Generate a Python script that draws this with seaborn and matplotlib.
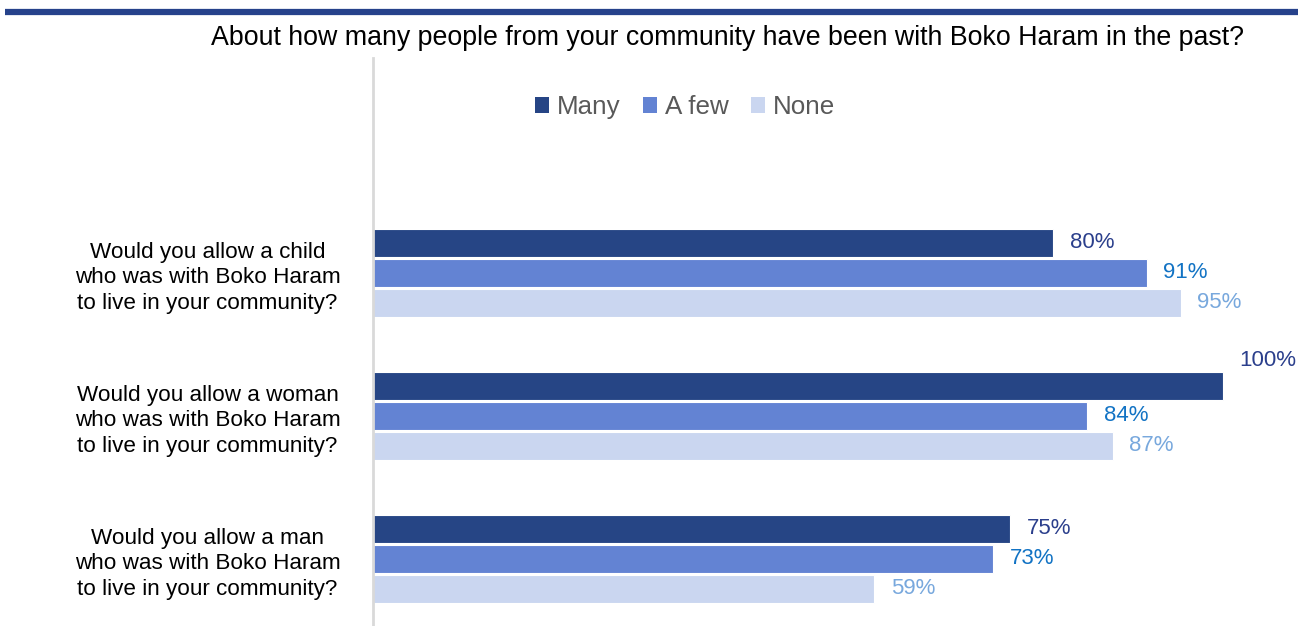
import matplotlib
matplotlib.use("Agg")
import matplotlib.pyplot as plt
import seaborn as sns
import pandas as pd
from matplotlib.lines import Line2D
from matplotlib.patches import Patch

questions = [
    "Would you allow a child\nwho was with Boko Haram\nto live in your community?",
    "Would you allow a woman\nwho was with Boko Haram\nto live in your community?",
    "Would you allow a man\nwho was with Boko Haram\nto live in your community?",
]
groups = ["Many", "A few", "None"]
many = [80, 100, 75]
a_few = [91, 84, 73]
none = [95, 87, 59]
title = "About how many people from your community have been with Boko Haram in the past?"

bar_colors = ["#264585", "#6383d3", "#cad6f0"]
label_colors = ["#2b3f8c", "#1273c4", "#78a8dd"]

rows = []
for g, vals in zip(groups, [many, a_few, none]):
    for q, v in zip(questions, vals):
        rows.append({"question": q, "group": g, "value": v})
df = pd.DataFrame(rows)

sns.set_theme(style="white")
plt.rcParams["font.family"] = ["Liberation Sans", "DejaVu Sans"]

W, H = 1304, 626
fig = plt.figure(figsize=(W / 100, H / 100), dpi=100)
ax = fig.add_axes([373 / W, 0, (W - 373) / W, (626 - 58) / H])

sns.barplot(data=df, y="question", x="value", hue="group", order=questions,
            hue_order=groups, palette=bar_colors, orient="h", width=0.63,
            gap=0.05, edgecolor="white", linewidth=0.8, ax=ax, legend=False,
            saturation=1)

ax.set_xlim(0, 100 * (W - 373) / 850)
ax.set_ylim(2.469, -1.503)
ax.set_xlabel("")
ax.set_ylabel("")
ax.set_xticks([])
for s in ["top", "right", "bottom"]:
    ax.spines[s].set_visible(False)
ax.spines["left"].set_color("#d9d9d9")
ax.spines["left"].set_linewidth(2)
ax.tick_params(axis="y", length=0, pad=23.5)
for lbl in ax.get_yticklabels():
    lbl.set_fontsize(16.2)
    lbl.set_multialignment("center")
    lbl.set_color("#000000")
    lbl.set_linespacing(1.28)

# value labels
for container, col in zip(ax.containers, label_colors):
    for bar in container:
        v = bar.get_width()
        y = bar.get_y() + bar.get_height() / 2
        dy = 0
        if v >= 100:
            dy = 18.5
        ax.annotate(f"{v:.0f}%", xy=(v, y), xytext=(12, dy),
                    textcoords="offset points", va="center", ha="left",
                    fontsize=16, color=col)

# legend
handles = [Patch(facecolor=c, edgecolor="none") for c in bar_colors]
fig.legend(handles, groups, loc="center", bbox_to_anchor=(685 / W, 1 - 107 / H),
           ncol=3, frameon=False, fontsize=18.7, handlelength=0.55, handleheight=0.55,
           handletextpad=0.3, columnspacing=0.85, labelcolor="#595959")

fig.text(727.5 / W, 1 - 38 / H, title, ha="center", va="center", fontsize=19.3,
         color="#000000")
fig.add_artist(Line2D([5 / W, 1298 / W], [1 - 12 / H, 1 - 12 / H],
                      color="#26428b", linewidth=4.5, solid_capstyle="butt",
                      transform=fig.transFigure))

fig.savefig("out.png", dpi=100)
